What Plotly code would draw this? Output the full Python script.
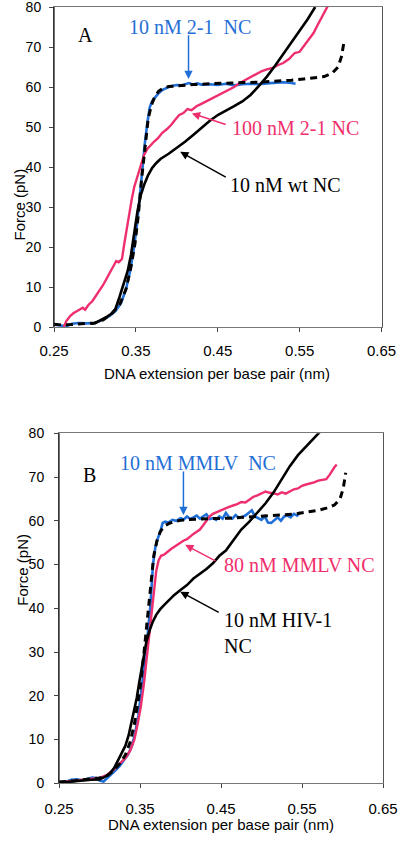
import plotly.graph_objects as go

# ---------------- Panel A data ----------------
blueA_x = [0.250,0.258,0.265,0.272,0.280,0.290,0.300,0.305,0.310,0.318,0.325,0.332,0.338,0.343,0.347,0.351,0.355,0.358,0.361,0.364,0.367,0.370,0.374,0.378,0.382,0.386,0.390,0.395,0.400,0.405,0.410,0.415,0.420,0.425,0.430,0.440,0.450,0.460,0.470,0.480,0.490,0.500,0.510,0.520,0.530,0.540,0.545]
blueA_y = [0.6,0.4,0.2,0.8,1.0,0.9,1.0,1.4,2.0,2.8,4.0,6.0,9.5,14,19,25,33,40,46,51,55,56.5,57.5,58.5,59.2,59.7,60.0,60.3,60.5,60.4,60.8,61.0,60.6,60.9,60.6,60.7,60.5,60.8,60.4,60.7,60.8,60.7,60.9,61.0,61.2,61.0,60.8]

dashA_x = [0.250,0.260,0.270,0.280,0.290,0.300,0.310,0.320,0.330,0.338,0.344,0.349,0.353,0.357,0.361,0.365,0.369,0.373,0.378,0.384,0.390,0.400,0.410,0.420,0.440,0.460,0.480,0.500,0.520,0.540,0.555,0.570,0.580,0.590,0.597,0.601,0.604]
dashA_y = [0.7,0.5,0.6,0.8,0.9,1.0,1.8,3.2,5.5,9.5,15,21,28,37,45,52,55.5,57.5,59,59.8,60.1,60.3,60.5,60.6,60.8,61.0,61.1,61.2,61.4,61.7,62.0,62.3,62.6,63.5,65,67.5,71]

blackA_x = [0.295,0.300,0.305,0.310,0.315,0.320,0.325,0.330,0.335,0.340,0.344,0.348,0.352,0.356,0.360,0.365,0.370,0.375,0.380,0.390,0.400,0.410,0.420,0.430,0.440,0.450,0.460,0.470,0.480,0.490,0.500,0.510,0.520,0.530,0.540,0.550,0.560,0.569]
blackA_y = [0.8,1.0,1.5,2.0,2.6,3.3,4.5,7.5,11,14,18,24,29,33,35.5,38,39.8,41,42,43.3,44.7,46.3,48,49.8,51.5,53,54,55.2,56.4,58,60.2,62.6,65.3,68.2,71,74,77,80]

pinkA_x = [0.262,0.265,0.270,0.274,0.280,0.285,0.288,0.292,0.297,0.302,0.306,0.310,0.314,0.318,0.322,0.326,0.329,0.333,0.336,0.339,0.342,0.345,0.348,0.351,0.354,0.357,0.360,0.364,0.368,0.372,0.377,0.382,0.388,0.393,0.398,0.403,0.408,0.413,0.418,0.424,0.430,0.437,0.444,0.450,0.457,0.464,0.470,0.477,0.484,0.490,0.497,0.504,0.510,0.517,0.524,0.530,0.537,0.544,0.550,0.556,0.562,0.567,0.572,0.577,0.581,0.585]
pinkA_y = [0.0,1.5,2.8,3.5,4.2,4.8,4.3,5.5,6.5,8.0,9.2,10.5,12,13.5,15,16.5,16.2,17,21,25,29,32,35,37,39.5,41.5,43,44.5,45.5,46.3,47.2,48.5,49.5,50.5,51.8,53,53.5,54.5,54.2,55.2,55.8,56.5,57.3,57.8,58.5,59.2,60,61,61.8,62.5,63.2,64,64.4,64.8,65.5,66,67,68.5,68.8,70.5,72,73.5,75.5,77.5,79,80.5]

# ---------------- Panel B data ----------------
blueB_x = [0.250,0.258,0.265,0.272,0.278,0.285,0.291,0.296,0.300,0.305,0.310,0.315,0.320,0.325,0.330,0.335,0.340,0.344,0.348,0.351,0.354,0.357,0.360,0.363,0.366,0.369,0.372,0.375,0.378,0.381,0.385,0.390,0.395,0.400,0.404,0.408,0.412,0.416,0.420,0.424,0.428,0.432,0.436,0.440,0.444,0.448,0.452,0.456,0.460,0.464,0.468,0.472,0.476,0.480,0.484,0.488,0.492,0.496,0.500,0.504,0.508,0.512,0.516,0.520,0.524,0.528,0.532,0.536,0.540,0.544,0.548]
blueB_y = [0.2,0.3,0.8,0.9,0.7,1.0,1.3,1.2,0.6,0.4,1.2,2.2,3.0,4.0,5.2,6.5,8.5,11.5,15.5,20,25,29.5,35,41,50,54,56,57.5,59.5,59.8,59.6,60.2,60.0,60.6,60.3,61.0,60.4,60.8,61.2,60.5,61.0,61.5,60.4,60.6,60.2,61.0,60.5,61.8,60.8,60.5,61.3,60.7,60.9,61.2,61.8,62.4,61.0,60.6,60.2,61.0,59.6,59.5,60.2,60.8,60.0,61.0,61.2,60.8,61.6,61.2,62.0]

dashB_x = [0.250,0.260,0.270,0.280,0.290,0.300,0.310,0.318,0.325,0.332,0.338,0.343,0.347,0.351,0.355,0.359,0.363,0.367,0.371,0.375,0.380,0.386,0.392,0.400,0.410,0.420,0.440,0.460,0.480,0.500,0.520,0.540,0.555,0.570,0.580,0.590,0.597,0.601,0.604]
dashB_y = [0.3,0.4,0.6,0.8,1.0,1.2,1.8,3.0,4.5,6.5,9.5,13.5,18,23,30,37,45,52,55.5,57.5,58.8,59.4,59.8,60.1,60.3,60.4,60.5,60.6,60.8,61.0,61.2,61.5,62.0,62.4,62.9,63.6,65,67.5,71]

blackB_x = [0.250,0.260,0.270,0.280,0.290,0.300,0.307,0.313,0.318,0.323,0.328,0.332,0.336,0.340,0.343,0.346,0.349,0.352,0.355,0.358,0.362,0.366,0.370,0.375,0.380,0.386,0.392,0.400,0.408,0.416,0.424,0.432,0.440,0.448,0.456,0.465,0.475,0.485,0.495,0.505,0.515,0.525,0.535,0.545,0.555,0.565,0.573]
blackB_y = [0.3,0.3,0.5,0.7,0.8,0.9,1.5,2.3,3.5,5.3,7,8.6,11,14.5,17,19.5,23,26.5,30,32.5,35,37,38.5,39.8,40.8,42,43,44.2,45.3,46.8,47.8,49,50.3,52,53.2,55.5,58,59.8,62,64,66.5,69.5,72.5,75,77,79,80.5]

pinkB_x = [0.250,0.260,0.270,0.280,0.290,0.300,0.310,0.318,0.325,0.332,0.338,0.343,0.347,0.351,0.355,0.358,0.361,0.364,0.367,0.370,0.373,0.376,0.380,0.384,0.388,0.392,0.396,0.400,0.404,0.408,0.412,0.416,0.420,0.424,0.428,0.432,0.436,0.440,0.445,0.450,0.455,0.460,0.465,0.470,0.475,0.480,0.485,0.490,0.495,0.500,0.505,0.510,0.515,0.520,0.525,0.530,0.535,0.540,0.545,0.550,0.555,0.560,0.565,0.570,0.575,0.580,0.584,0.588,0.591,0.593]
pinkB_y = [0.2,0.4,0.6,0.8,1.0,1.2,2.0,3.2,4.5,5.8,7.5,10,13.5,17.5,23,28,33,39,44,48.5,51,52,52.3,53,53.5,54,54.5,55.2,55.5,55.8,56.5,57,57.5,58,59,60,61,61.6,62,62.5,62.8,63.2,63.5,63.8,64.3,64.2,64.8,65.5,65.8,66.2,66.7,66.4,66.3,66,66.5,66.2,66.8,67.2,67.4,68,68.3,68.5,68.8,69.2,69.3,69.5,70.5,71.8,72.5,72.8]

for a, b in [(blueA_x, blueA_y), (dashA_x, dashA_y), (blackA_x, blackA_y), (pinkA_x, pinkA_y),
             (blueB_x, blueB_y), (dashB_x, dashB_y), (blackB_x, blackB_y), (pinkB_x, pinkB_y)]:
    assert len(a) == len(b), (len(a), len(b))

x_ticks = [0.25, 0.35, 0.45, 0.55, 0.65]
x_tick_labels = ["0.25", "0.35", "0.45", "0.55", "0.65"]
y_ticks = [0, 10, 20, 30, 40, 50, 60, 70, 80]

BLUE = "#1f6fd6"
PINK = "#ef2f6d"
BLACK = "#000000"
SERIF = "Liberation Serif, Times New Roman, serif"
SANS = "Liberation Sans, Arial, sans-serif"

W, H = 400, 848
def px(v):
    return v / W
def py(v):
    return 1 - v / H

fig = go.Figure()

def add_panel(xa, ya, blue, pink, black, dash):
    fig.add_trace(go.Scatter(x=blue[0], y=blue[1], mode="lines", xaxis=xa, yaxis=ya,
                             line=dict(color=BLUE, width=2.6), showlegend=False))
    fig.add_trace(go.Scatter(x=pink[0], y=pink[1], mode="lines", xaxis=xa, yaxis=ya,
                             line=dict(color=PINK, width=2.4), showlegend=False))
    fig.add_trace(go.Scatter(x=black[0], y=black[1], mode="lines", xaxis=xa, yaxis=ya,
                             line=dict(color=BLACK, width=2.6), showlegend=False))
    fig.add_trace(go.Scatter(x=dash[0], y=dash[1], mode="lines", xaxis=xa, yaxis=ya,
                             line=dict(color=BLACK, width=3, dash="7px,5px"), showlegend=False))

add_panel("x", "y", (blueA_x, blueA_y), (pinkA_x, pinkA_y), (blackA_x, blackA_y), (dashA_x, dashA_y))
add_panel("x2", "y2", (blueB_x, blueB_y), (pinkB_x, pinkB_y), (blackB_x, blackB_y), (dashB_x, dashB_y))

def xaxis_cfg(domain, anchor, standoff):
    return dict(domain=domain, anchor=anchor, range=[0.25, 0.65], tickvals=x_ticks,
                ticktext=x_tick_labels, ticks="outside", ticklen=4, tickcolor="#444",
                showline=True, linecolor="#777", linewidth=1, mirror=True, showgrid=False,
                zeroline=False, tickfont=dict(family=SANS, size=15, color="#000"),
                ticklabelstandoff=standoff, automargin=False, ticklabeloverflow="allow")

def yaxis_cfg(domain, anchor, standoff):
    return dict(domain=domain, anchor=anchor, range=[0, 80], tickvals=y_ticks,
                ticks="outside", ticklen=4, tickcolor="#444",
                showline=True, linecolor="#555", linewidth=1, mirror=True, showgrid=False,
                zeroline=False, tickfont=dict(family=SANS, size=14, color="#000"),
                ticklabelstandoff=standoff, automargin=False, ticklabeloverflow="allow")

fig.update_layout(
    template="none",
    width=W, height=H, margin=dict(l=0, r=0, t=0, b=0, pad=0, autoexpand=False),
    paper_bgcolor="white", plot_bgcolor="white",
    xaxis=xaxis_cfg([px(54), px(381.5)], "y", 6),
    yaxis=yaxis_cfg([py(327), py(7)], "x", 5),
    xaxis2=xaxis_cfg([px(59), px(383)], "y2", 8),
    yaxis2=yaxis_cfg([py(783.3), py(433.3)], "x2", 7),
)

# left axis lines drawn darker
fig.add_shape(type="line", xref="paper", yref="paper", x0=px(54), x1=px(54), y0=py(327), y1=py(7),
              line=dict(color="#222", width=1.3))
fig.add_shape(type="line", xref="paper", yref="paper", x0=px(59), x1=px(59), y0=py(783.3), y1=py(433.3),
              line=dict(color="#222", width=1.3))

ann = []
# axis titles
ann.append(dict(text="DNA extension per base pair (nm)", xref="paper", yref="paper",
                x=px(217.5), y=py(373.3), showarrow=False, font=dict(family=SANS, size=15, color="#000")))
ann.append(dict(text="DNA extension per base pair (nm)", xref="paper", yref="paper",
                x=px(220.7), y=py(835), showarrow=False, font=dict(family=SANS, size=15, color="#000")))
ann.append(dict(text="Force (pN)", xref="paper", yref="paper", textangle=-90,
                x=px(8.5), y=py(166.5), showarrow=False, font=dict(family=SANS, size=15, color="#000")))
ann.append(dict(text="Force (pN)", xref="paper", yref="paper", textangle=-90,
                x=px(11.7), y=py(607.5), showarrow=False, font=dict(family=SANS, size=15, color="#000")))

# panel labels
ann.append(dict(text="A", xref="x", yref="y", x=0.2879, y=73, showarrow=False,
                font=dict(family=SERIF, size=20, color="#000")))
ann.append(dict(text="B", xref="x2", yref="y2", x=0.2877, y=70.5, showarrow=False,
                font=dict(family=SERIF, size=20, color="#000")))

# text labels panel A
ann.append(dict(text="10 nM 2-1\u00a0 NC", xref="x", yref="y", x=0.3393, y=75, xanchor="left",
                showarrow=False, font=dict(family=SERIF, size=20, color=BLUE)))
ann.append(dict(text="100 nM 2-1 NC", xref="x", yref="y", x=0.4653, y=49.75, xanchor="left",
                showarrow=False, font=dict(family=SERIF, size=20, color=PINK)))
ann.append(dict(text="10 nM wt NC", xref="x", yref="y", x=0.4628, y=35.5, xanchor="left",
                showarrow=False, font=dict(family=SERIF, size=20, color=BLACK)))
# text labels panel B
ann.append(dict(text="10 nM MMLV\u00a0 NC", xref="x2", yref="y2", x=0.3229, y=73.2, xanchor="left",
                showarrow=False, font=dict(family=SERIF, size=20, color=BLUE)))
ann.append(dict(text="80 nM MMLV NC", xref="x2", yref="y2", x=0.4511, y=49.9, xanchor="left",
                showarrow=False, font=dict(family=SERIF, size=20, color=PINK)))
ann.append(dict(text="10 nM HIV-1<br>NC", xref="x2", yref="y2", x=0.4511, y=34.3, xanchor="left",
                align="left", showarrow=False, font=dict(family=SERIF, size=20, color=BLACK)))

# arrows (head, tail) in data coords
def arrow(xr, yr, head, tail, color):
    return dict(text="", xref=xr, yref=yr, axref=xr, ayref=yr, x=head[0], y=head[1],
                ax=tail[0], ay=tail[1], showarrow=True, arrowhead=2, arrowsize=1.1,
                arrowwidth=1.5, arrowcolor=color)

ann.append(arrow("x", "y", (0.4143, 62.0), (0.4143, 73.3), BLUE))
ann.append(arrow("x", "y", (0.4184, 53.4), (0.4616, 50.5), PINK))
ann.append(arrow("x", "y", (0.4041, 43.8), (0.4616, 37.25), BLACK))
ann.append(arrow("x2", "y2", (0.4036, 61.3), (0.4036, 71.6), BLUE))
ann.append(arrow("x2", "y2", (0.4057, 54.5), (0.4449, 50.65), PINK))
ann.append(arrow("x2", "y2", (0.3996, 43.8), (0.449, 38.9), BLACK))

fig.update_layout(annotations=ann)
fig.write_html("out.html", config={"displayModeBar": False},
               post_script="document.body.style.margin='0';document.body.style.overflow='hidden';")
